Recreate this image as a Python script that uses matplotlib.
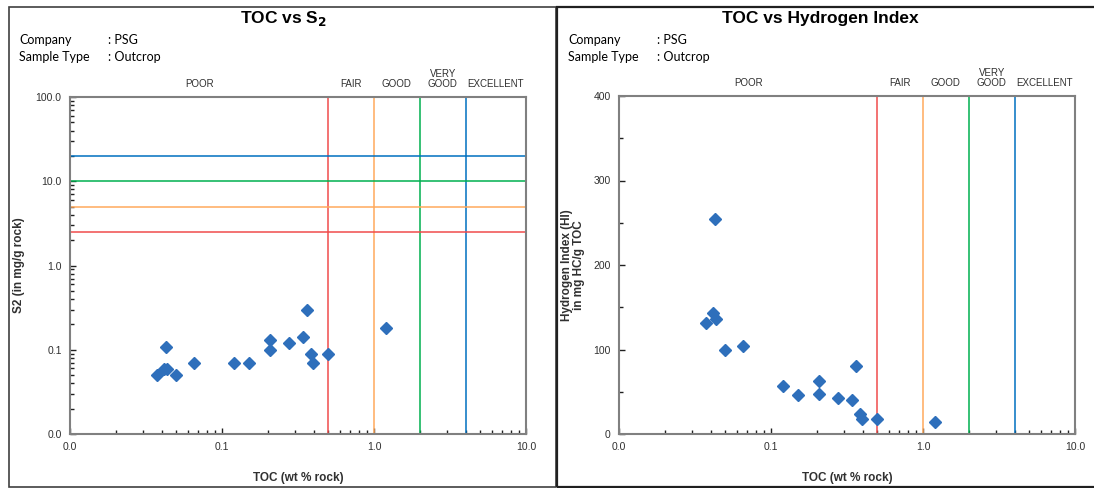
import matplotlib
matplotlib.use("Agg")
import matplotlib.pyplot as plt
from matplotlib.patches import Rectangle
from matplotlib.ticker import FixedLocator, FuncFormatter, LogLocator, NullFormatter, MultipleLocator

W, H = 1094, 488

# data
toc = [0.0374, 0.0415, 0.0433, 0.0426, 0.0496, 0.0657, 0.1205, 0.151, 0.206,
       0.208, 0.277, 0.342, 0.365, 0.383, 0.398, 0.497, 1.20]
s2 = [0.05, 0.059, 0.059, 0.109, 0.05, 0.07, 0.07, 0.07, 0.129,
      0.10, 0.12, 0.14, 0.30, 0.09, 0.07, 0.09, 0.18]
hi = [131.5, 143.7, 136.2, 254, 99.2, 104.7, 57, 45.7, 62.6,
      47.2, 42.9, 40.2, 80.7, 23.2, 17.3, 17.7, 14.6]

toc_limits = [0.5, 1, 2, 4]
s2_limits = [2.5, 5, 10, 20]
limit_colors = ["#f04b4b", "#ffa95c", "#00b050", "#0070c0"]
classes = ["POOR", "FAIR", "GOOD", "VERY\nGOOD", "EXCELLENT"]
class_pos = [0.0707, 0.707, 1.414, 2.83, 6.32]

marker_color = "#2e6fbb"
spine_color = "#808080"
text_color = "#303030"

plt.rcParams["font.family"] = ["Liberation Sans", "DejaVu Sans"]

fig = plt.figure(figsize=(W / 100, H / 100), dpi=100)


def box(x0, y0, x1, y1):
    return [x0 / W, 1 - y1 / H, (x1 - x0) / W, (y1 - y0) / H]


def ftext(x, y, s, **kw):
    fig.text(x / W, 1 - y / H, s, **kw)


# panel frames
fig.patches.append(Rectangle((9 / W, 1 - 487 / H), (556 - 9) / W, (487 - 7) / H,
                             transform=fig.transFigure, fill=False,
                             edgecolor="#404040", lw=1.2))
fig.patches.append(Rectangle((557 / W, 1 - 487 / H), (1100 - 557) / W, (487 - 7) / H,
                             transform=fig.transFigure, fill=False,
                             edgecolor="#202020", lw=1.6))


def style_axes(ax, x0, y1):
    for sp in ax.spines.values():
        sp.set_color(spine_color)
        sp.set_linewidth(1.5)
    ax.set_xscale("log")
    ax.set_xlim(0.01, 10)
    ax.xaxis.set_major_locator(FixedLocator([0.01, 0.1, 1, 10]))
    ax.xaxis.set_minor_locator(LogLocator(base=10, subs=range(2, 10)))
    ax.xaxis.set_major_formatter(FuncFormatter(lambda v, p: f"{v:.1f}"))
    ax.xaxis.set_minor_formatter(NullFormatter())
    ax.tick_params(which="both", direction="in", color="#202020",
                   labelsize=7.5, labelcolor=text_color, top=False, right=False)
    ax.tick_params(which="major", length=4, width=1, pad=6)
    ax.tick_params(which="minor", length=3, width=1)
    for v, c in zip(toc_limits, limit_colors):
        ax.axvline(v, color=c, lw=1.1, zorder=2)
    ax.set_xlabel("TOC (wt % rock)", fontsize=8.5, fontweight="bold",
                  color=text_color, va="center")
    ax.xaxis.set_label_coords(0.5, (y1 - 478) / 337)


def header(x_center, x_left, title):
    ftext(x_center, 19, title, ha="center", va="center", fontsize=12.5,
          fontweight="bold", color="black")
    fam = ["Lato", "DejaVu Sans"]
    ftext(x_left, 40, "Company", ha="left", va="center", fontsize=9,
          family=fam, color="black")
    ftext(x_left + 89, 40, ": PSG", ha="left", va="center", fontsize=9,
          family=fam, color="black")
    ftext(x_left, 57, "Sample Type", ha="left", va="center", fontsize=9,
          family=fam, color="black")
    ftext(x_left + 89, 57, ": Outcrop", ha="left", va="center", fontsize=9,
          family=fam, color="black")


# left panel: TOC vs S2
ax1 = fig.add_axes(box(70, 97, 526, 434))
style_axes(ax1, 70, 434)
ax1.set_yscale("log")
ax1.set_ylim(0.01, 100)
ax1.yaxis.set_major_locator(FixedLocator([0.01, 0.1, 1, 10, 100]))
ax1.yaxis.set_minor_locator(LogLocator(base=10, subs=range(2, 10)))
ax1.yaxis.set_major_formatter(FuncFormatter(lambda v, p: f"{v:.1f}"))
ax1.yaxis.set_minor_formatter(NullFormatter())
for v, c in zip(s2_limits, limit_colors):
    ax1.axhline(v, color=c, lw=1.1, zorder=2)
ax1.plot(toc, s2, "D", ms=6.5, color=marker_color, ls="none", zorder=5)
ax1.set_ylabel("S2 (in mg/g rock)", fontsize=8.5, fontweight="bold",
               color=text_color, va="center")
ax1.yaxis.set_label_coords((19 - 70) / 456, 0.5)
for name, xp in zip(classes, class_pos):
    ax1.text(xp, 1.025, name, transform=ax1.get_xaxis_transform(), ha="center",
             va="bottom", fontsize=7, color=text_color, linespacing=1.0)
header(283, 19, "TOC vs S$_\\mathbf{2}$")

# right panel: TOC vs HI
ax2 = fig.add_axes(box(619, 96, 1075, 434))
style_axes(ax2, 619, 434)
ax2.set_ylim(0, 400)
ax2.yaxis.set_major_locator(MultipleLocator(100))
ax2.yaxis.set_minor_locator(MultipleLocator(50))
ax2.plot(toc, hi, "D", ms=6.5, color=marker_color, ls="none", zorder=5)
ax2.set_ylabel("Hydrogen Index (HI)\nin mg HC/g TOC", fontsize=8.5,
               fontweight="bold", color=text_color, linespacing=1.1, va="center")
ax2.yaxis.set_label_coords((573 - 619) / 456, 0.5)
for name, xp in zip(classes, class_pos):
    ax2.text(xp, 1.025, name, transform=ax2.get_xaxis_transform(), ha="center",
             va="bottom", fontsize=7, color=text_color, linespacing=1.0)
header(820, 568, "TOC vs Hydrogen Index")

fig.savefig("out.png", dpi=100)
